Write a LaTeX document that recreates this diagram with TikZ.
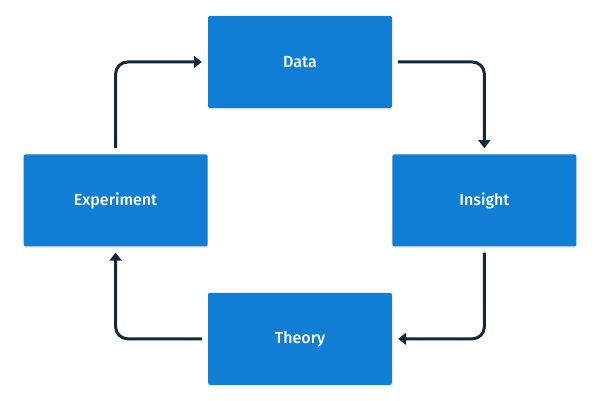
\documentclass[tikz,border=0pt]{standalone}
\usepackage{fontspec}
\setmainfont{Fira Sans}
\newfontfamily\stagefont{Fira Sans Medium}
\usepackage{xcolor}
\usepackage{tikz}
\usetikzlibrary{arrows.meta, positioning, shadows}
\definecolor{boxblue}{HTML}{117ED6}
\definecolor{linkdark}{HTML}{14283C}
\tikzstyle{stage} = [rectangle, rounded corners=2pt, minimum width=184pt, minimum height=92pt, text centered, fill=boxblue, text=white, font=\stagefont\fontsize{16}{19}\selectfont, drop shadow={opacity=0.12, shadow xshift=0pt, shadow yshift=-1.5pt}]
\tikzstyle{arrow} = [draw=linkdark, line width=3pt, rounded corners=12pt, shorten <=6pt, shorten >=6pt, -{Triangle[length=8pt,width=12pt]}]

\begin{document}
\begin{tikzpicture}[x=1pt, y=1pt]
\useasboundingbox (0,0) rectangle (600,400);
% Nodes
\node (data) [stage] at (300,338) {Data};
\node (insight) [stage, below right=46pt and 0pt of data.south east, anchor=north west] {Insight};
\node (theory) [stage, below left=46pt and 0pt of insight.south west, anchor=north east] {Theory};
\node (experiment) [stage, above left=46pt and 0pt of theory.north west, anchor=south east] {Experiment};

% Paths
\draw [arrow] (data.east) -| (insight.north);
\draw [arrow] (insight.south) |- (theory.east);
\draw [arrow] (theory.west) -| (experiment.south);
\draw [arrow] (experiment.north) |- (data.west);

\end{tikzpicture}
\end{document}
